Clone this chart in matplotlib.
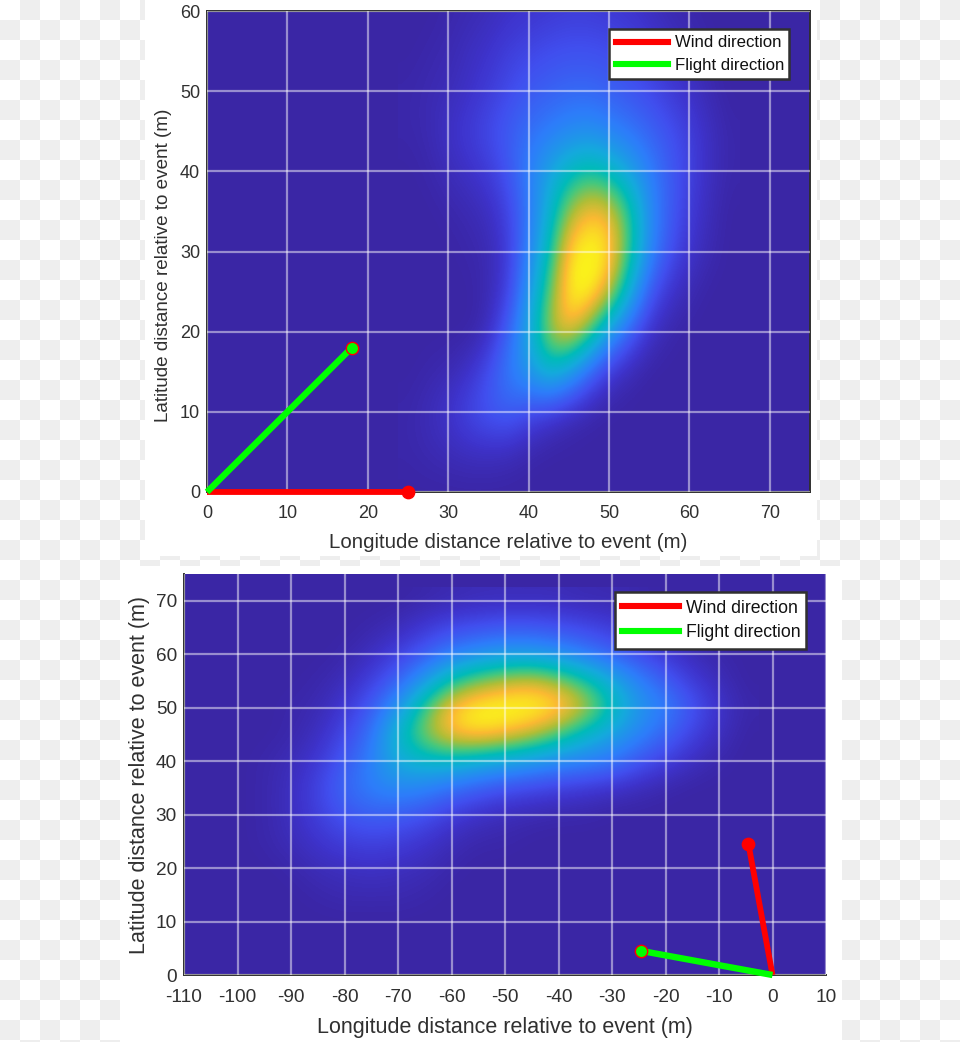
import numpy as np
import matplotlib
matplotlib.use("Agg")
import matplotlib.pyplot as plt
from matplotlib.colors import LinearSegmentedColormap
from matplotlib.lines import Line2D

plt.rcParams['font.family'] = ['Liberation Sans', 'DejaVu Sans']
plt.rcParams['axes.unicode_minus'] = False

INK = '#303030'
cmap = LinearSegmentedColormap.from_list('parula_like', [
    (0.00, (58/255, 38/255, 165/255)),
    (0.06, (62/255, 52/255, 205/255)),
    (0.13, (65/255, 78/255, 238/255)),
    (0.26, (45/255, 125/255, 250/255)),
    (0.43, (20/255, 170/255, 220/255)),
    (0.55, (0/255, 187/255, 185/255)),
    (0.65, (70/255, 200/255, 125/255)),
    (0.76, (175/255, 190/255, 55/255)),
    (0.86, (250/255, 185/255, 50/255)),
    (0.95, (250/255, 235/255, 30/255)),
    (1.00, (250/255, 252/255, 20/255)),
])

top_x = [25, 27.5, 30, 32.5, 35, 37.5, 40, 42.5, 45, 47.5, 50, 52.5, 55, 57.5, 60, 62.5, 65]
top_y = [60, 55, 50, 45, 40, 35, 30, 25, 20, 15, 10, 5, 0]
top_z = [
    [0, 0, 1, 2, 3, 5, 6, 7, 8, 8, 7, 6, 4, 2, 1, 0, 0],
    [0, 1, 2, 4, 6, 9, 11, 13, 14, 14, 13, 11, 8, 5, 3, 1, 0],
    [1, 2, 3, 5, 8, 12, 16, 18, 20, 20, 18, 15, 12, 8, 5, 2, 0],
    [1, 2, 5, 8, 12, 17, 22, 26, 30, 32, 28, 24, 19, 14, 9, 4, 1],
    [0, 1, 3, 5, 8, 15, 27, 40, 52, 58, 52, 40, 27, 17, 10, 4, 1],
    [0, 0, 1, 2, 4, 10, 24, 46, 74, 88, 84, 62, 32, 17, 8, 3, 0],
    [0, 0, 0, 1, 2, 8, 27, 55, 92, 100, 94, 64, 30, 14, 6, 2, 0],
    [0, 0, 0, 0, 2, 9, 34, 66, 97, 100, 82, 46, 16, 6, 2, 0, 0],
    [0, 0, 0, 0, 3, 18, 42, 76, 88, 68, 36, 17, 5, 1, 0, 0, 0],
    [0, 1, 2, 5, 13, 26, 36, 50, 38, 18, 6, 2, 0, 0, 0, 0, 0],
    [1, 3, 6, 11, 16, 18, 12, 7, 3, 1, 0, 0, 0, 0, 0, 0, 0],
    [1, 2, 3, 4, 4, 3, 1, 0, 0, 0, 0, 0, 0, 0, 0, 0, 0],
    [0, 0, 0, 0, 0, 0, 0, 0, 0, 0, 0, 0, 0, 0, 0, 0, 0],
]
top_wind_x = [0, 25]
top_wind_y = [0, 0]
top_flight_x = [0, 18]
top_flight_y = [0, 18]
top_xticks = [0, 10, 20, 30, 40, 50, 60, 70]
top_yticks = [0, 10, 20, 30, 40, 50, 60]

bot_x = [-100, -95, -90, -85, -80, -75, -70, -65, -60, -55, -50, -45, -40, -35, -30, -25, -20, -15, -10, -5]
bot_y = [70, 65, 60, 55, 50, 45, 40, 35, 30, 25, 20, 15, 10]
bot_z = [
    [0, 0, 0, 0, 0, 0, 0, 1, 2, 3, 3, 3, 3, 2, 2, 1, 0, 0, 0, 0],
    [0, 0, 0, 0, 0, 1, 3, 7, 11, 13, 15, 15, 13, 11, 8, 5, 2, 0, 0, 0],
    [0, 0, 0, 0, 1, 4, 9, 16, 26, 32, 36, 36, 32, 25, 18, 12, 7, 3, 1, 0],
    [0, 0, 0, 1, 3, 9, 18, 36, 58, 70, 78, 82, 74, 60, 44, 28, 17, 8, 3, 0],
    [0, 0, 1, 2, 7, 16, 34, 64, 90, 99, 100, 100, 95, 80, 56, 36, 27, 15, 6, 1],
    [0, 0, 1, 4, 11, 22, 50, 72, 88, 93, 88, 80, 66, 50, 40, 29, 19, 10, 4, 0],
    [0, 1, 3, 7, 16, 27, 44, 50, 50, 45, 40, 35, 30, 28, 24, 15, 9, 4, 1, 0],
    [0, 1, 4, 10, 20, 27, 31, 28, 22, 17, 13, 11, 9, 7, 5, 3, 1, 0, 0, 0],
    [0, 1, 4, 9, 15, 18, 17, 14, 8, 5, 3, 2, 1, 1, 0, 0, 0, 0, 0, 0],
    [0, 1, 3, 6, 9, 10, 9, 6, 3, 1, 1, 0, 0, 0, 0, 0, 0, 0, 0, 0],
    [0, 0, 1, 3, 4, 5, 4, 3, 1, 0, 0, 0, 0, 0, 0, 0, 0, 0, 0, 0],
    [0, 0, 0, 1, 2, 2, 2, 1, 0, 0, 0, 0, 0, 0, 0, 0, 0, 0, 0, 0],
    [0, 0, 0, 0, 0, 0, 0, 0, 0, 0, 0, 0, 0, 0, 0, 0, 0, 0, 0, 0],
]
bot_wind_x = [0, -4.5]
bot_wind_y = [0, 24.5]
bot_flight_x = [0, -24.5]
bot_flight_y = [0, 4.5]
bot_xticks = [-110, -100, -90, -80, -70, -60, -50, -40, -30, -20, -10, 0, 10]
bot_yticks = [0, 10, 20, 30, 40, 50, 60, 70]

W, H = 960, 1042
fig = plt.figure(figsize=(W / 100, H / 100), dpi=100, facecolor='white')

# transparency-style checker page behind the two white panels
bg = fig.add_axes([0, 0, 1, 1], zorder=-1)
jj, ii = np.indices((H, W))
page = np.where((ii // 20 + jj // 20) % 2 == 1, 0.93, 1.0)
page[0:556, 145:817] = 1.0
page[566:, 120:842] = 1.0
page[560:566, 120:842] = np.where((ii[560:566, 120:842] // 20 + 28) % 2 == 1, 0.93, 1.0)
page[556:560, 145:817] = np.where((ii[556:560, 145:817] // 20 + 27) % 2 == 1, 0.93, 1.0)
bg.imshow(page, cmap='gray', vmin=0, vmax=1, aspect='auto', interpolation='nearest')
bg.axis('off')


def panel(box, xs, ys, z, xlim, ylim, xticks, yticks, wind, flight, legbox, boxed,
          xl_y, yl_x, yl_y, fs_t, fs_xl, fs_yl, fs_leg, pad_x, hl, ls):
    l, t, r, b = box
    ax = fig.add_axes([l / W, 1 - b / H, (r - l) / W, (b - t) / H])
    ax.set_facecolor(cmap(0.0))
    dx = (xs[1] - xs[0]) / 2
    dy = (ys[0] - ys[1]) / 2
    ax.imshow(np.array(z, float), cmap=cmap, vmin=0, vmax=100, aspect='auto', interpolation='bicubic',
              extent=[xs[0] - dx, xs[-1] + dx, ys[-1] - dy, ys[0] + dy], origin='upper', zorder=1)
    ax.set_xlim(xlim)
    ax.set_ylim(ylim)
    ax.set_xticks(xticks)
    ax.set_yticks(yticks)
    ax.grid(True, color='white', alpha=0.48, linewidth=1.6, zorder=2)
    ax.set_axisbelow(False)
    ax.tick_params(length=0, labelsize=fs_t, colors=INK)
    ax.tick_params(axis='x', pad=pad_x)
    ax.tick_params(axis='y', pad=5)
    for s in ax.spines.values():
        s.set_color(INK)
        s.set_linewidth(1.4)
    ax.spines['right'].set_visible(boxed)
    ax.spines['top'].set_visible(boxed)
    ax.set_xlabel('Longitude distance relative to event (m)', fontsize=fs_xl, color=INK)
    ax.set_ylabel('Latitude distance relative to event (m)', fontsize=fs_yl, color=INK)
    ax.xaxis.set_label_coords(0.5, xl_y, transform=ax.transAxes)
    ax.yaxis.set_label_coords(yl_x, yl_y, transform=ax.transAxes)
    ax.plot(wind[0], wind[1], color='#ff0000', lw=4.2, clip_on=False, zorder=5, solid_capstyle='butt')
    ax.plot(wind[0][-1], wind[1][-1], 'o', color='#ff0000', ms=8.9, clip_on=False, zorder=5)
    ax.plot(flight[0], flight[1], color='#00ff00', lw=4.6, clip_on=False, zorder=6, solid_capstyle='butt')
    ax.plot(flight[0][-1], flight[1][-1], 'o', mfc='#00ff00', mec='#ff0000', mew=1, ms=8.9, clip_on=False, zorder=6)
    handles = [Line2D([], [], color='#ff0000', lw=4.4), Line2D([], [], color='#00ff00', lw=4.4)]
    lx0, ly0, lx1, ly1 = legbox
    bbox = ((lx0 - l) / (r - l), 1 - (ly1 - t) / (b - t), (lx1 - lx0) / (r - l), (ly1 - ly0) / (b - t))
    leg = ax.legend(handles, ['Wind direction', 'Flight direction'], loc='center', bbox_to_anchor=bbox,
                    mode='expand', fontsize=fs_leg, fancybox=False, framealpha=1, edgecolor=INK,
                    borderaxespad=0, borderpad=0.4, handlelength=hl, handletextpad=0.4, labelspacing=ls)
    leg.get_frame().set_linewidth(1.8)
    leg.set_zorder(10)
    for txt in leg.get_texts():
        txt.set_color('#111111')
    return ax


panel((207, 11, 810, 492), top_x, top_y, top_z, (0, 75), (0, 60), top_xticks, top_yticks,
      (top_wind_x, top_wind_y), (top_flight_x, top_flight_y), (609, 29, 789, 79), True,
      -0.085, -0.058, 0.472, 13, 14.8, 13.6, 12.1, 9, 3.1, 0.42)
panel((184, 574, 826, 975), bot_x, bot_y, bot_z, (-110, 10), (0, 75), bot_xticks, bot_yticks,
      (bot_wind_x, bot_wind_y), (bot_flight_x, bot_flight_y), (615, 595, 806, 646), False,
      -0.104, -0.053, 0.5, 13.7, 15.5, 15.5, 12.7, 10, 3.2, 0.45)

fig.savefig('out.png', dpi=100, facecolor='white')
